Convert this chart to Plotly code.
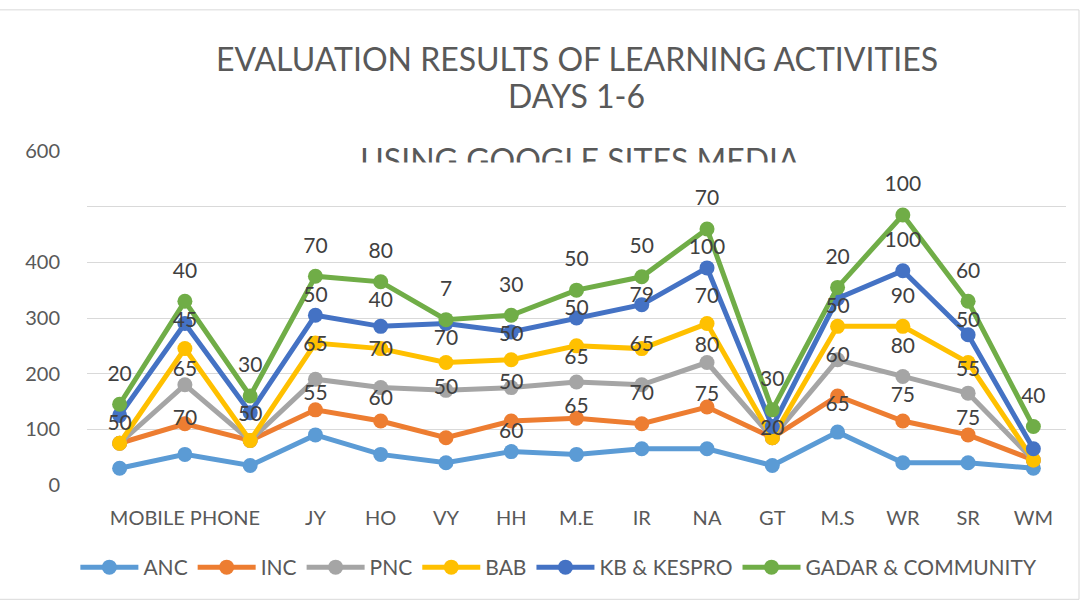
import numpy as np
import plotly.graph_objects as go

# ---- data -------------------------------------------------------------
CATEGORIES = ["", "MOBILE PHONE", "", "JY", "HO", "VY", "HH", "M.E", "IR",
              "NA", "GT", "M.S", "WR", "SR", "WM"]
ANC = [30, 55, 35, 90, 55, 40, 60, 55, 65, 65, 35, 95, 40, 40, 30]
INC = [45, 55, 45, 45, 60, 45, 55, 65, 45, 75, 50, 65, 75, 50, 15]
PNC = [0, 70, 0, 55, 60, 85, 60, 65, 70, 80, 0, 65, 80, 75, 0]
BAB = [0, 65, 0, 65, 70, 50, 50, 65, 65, 70, 0, 60, 90, 55, 0]
KB_KESPRO = [50, 45, 50, 50, 40, 70, 50, 50, 79, 100, 20, 50, 100, 50, 20]
GADAR_COMMUNITY = [20, 40, 30, 70, 80, 7, 30, 50, 50, 70, 30, 20, 100, 60, 40]
Y_TICKS = [0, 100, 200, 300, 400, 500, 600]
Y_TICK_TEXT = ["0", "100", "200", "300", "400", "", "600"]

SERIES = [
    ("ANC", ANC, "#5B9BD5"),
    ("INC", INC, "#ED7D31"),
    ("PNC", PNC, "#A5A5A5"),
    ("BAB", BAB, "#FFC000"),
    ("KB & KESPRO", KB_KESPRO, "#4472C4"),
    ("GADAR & COMMUNITY", GADAR_COMMUNITY, "#70AD47"),
]

FONT = "Lato"
x = list(range(len(CATEGORIES)))

fig = go.Figure()
for name, vals, color in SERIES:
    fig.add_trace(go.Scatter(
        x=x, y=vals, name=name, mode="lines+markers",
        stackgroup="one", fill="none",
        line=dict(color=color, width=5),
        marker=dict(color=color, size=15),
        hoverinfo="skip",
    ))

# ---- data labels (stacked layout, pushed down to avoid collisions) ----
vals_arr = np.array([s[1] for s in SERIES], dtype=float)
cum = np.cumsum(vals_arr, axis=0)
OFF, GAP, MIN_SHOW = 52.0, 88.0, 90.0
n_s, n_x = vals_arr.shape
label_y = np.zeros_like(cum)
for j in range(n_x):
    prev = None
    for i in range(n_s - 1, -1, -1):
        y = cum[i, j] + OFF
        if prev is not None:
            y = min(y, prev - GAP)
        label_y[i, j] = y
        prev = y

for i, (name, vals, color) in enumerate(SERIES):
    xs, ys, ts = [], [], []
    for j in range(n_x):
        if label_y[i, j] >= MIN_SHOW:
            xs.append(j)
            ys.append(label_y[i, j])
            ts.append(str(vals[j]))
    fig.add_trace(go.Scatter(
        x=xs, y=ys, text=ts, mode="text", showlegend=False,
        textposition="middle center", cliponaxis=False,
        textfont=dict(family=FONT, size=21, color="#404040"),
        hoverinfo="skip",
    ))

L, R, T, B = 87, 17, 151, 113
W, H = 1083, 600
pw, ph = W - L - R, H - T - B


def px_x(p):
    return (p - L) / pw


def px_y(p):
    return (H - B - p) / ph


TITLE_FONT = dict(family=FONT, size=32, color="#595959")

fig.update_layout(
    width=W, height=H,
    margin=dict(l=L, r=R, t=T, b=B),
    paper_bgcolor="white", plot_bgcolor="white",
    font=dict(family=FONT, color="#595959", size=20),
    showlegend=True,
    legend=dict(orientation="h", x=0.482, xanchor="center",
                y=px_y(570), yanchor="middle", traceorder="normal",
                font=dict(family=FONT, size=21, color="#595959"),
                itemwidth=58),
    xaxis=dict(range=[-0.5, len(CATEGORIES) - 0.5], tickvals=x,
               ticktext=CATEGORIES, showgrid=False, zeroline=False,
               showline=False, ticks="outside", ticklen=15,
               tickcolor="rgba(0,0,0,0)",
               tickfont=dict(family=FONT, size=20, color="#595959")),
    yaxis=dict(range=[0, 600], tickvals=Y_TICKS, ticktext=Y_TICK_TEXT,
               showgrid=True, gridcolor="#D9D9D9", gridwidth=1.3,
               zeroline=False, showline=False, ticks="outside",
               ticklen=22, tickcolor="rgba(0,0,0,0)",
               tickfont=dict(family=FONT, size=20, color="#595959")),
    annotations=[
        dict(text="EVALUATION RESULTS OF LEARNING ACTIVITIES", xref="paper",
             yref="paper", x=0.5, y=px_y(58), showarrow=False,
             xanchor="center", yanchor="middle", font=TITLE_FONT),
        dict(text="DAYS 1-6", xref="paper", yref="paper", x=0.5,
             y=px_y(95), showarrow=False, xanchor="center",
             yanchor="middle", font=TITLE_FONT),
    ],
    shapes=[
        dict(type="rect", xref="paper", yref="paper",
             x0=px_x(280), x1=px_x(880), y0=px_y(178), y1=px_y(142),
             line=dict(width=0), fillcolor="rgba(0,0,0,0)", layer="above",
             label=dict(text="USING GOOGLE SITES MEDIA",
                        textposition="middle center", font=TITLE_FONT)),
        dict(type="rect", xref="paper", yref="paper",
             x0=px_x(280), x1=px_x(880), y0=px_y(180), y1=px_y(162.5),
             line=dict(width=0), fillcolor="white", layer="above"),
        dict(type="rect", xref="paper", yref="paper",
             x0=px_x(-2), x1=px_x(1079), y0=px_y(602), y1=px_y(9),
             line=dict(width=1, color="#D9D9D9"),
             fillcolor="rgba(0,0,0,0)", layer="below"),
    ],
)

fig.write_html("out.html",
               config={"displayModeBar": False},
               post_script="document.body.style.margin='0';")
